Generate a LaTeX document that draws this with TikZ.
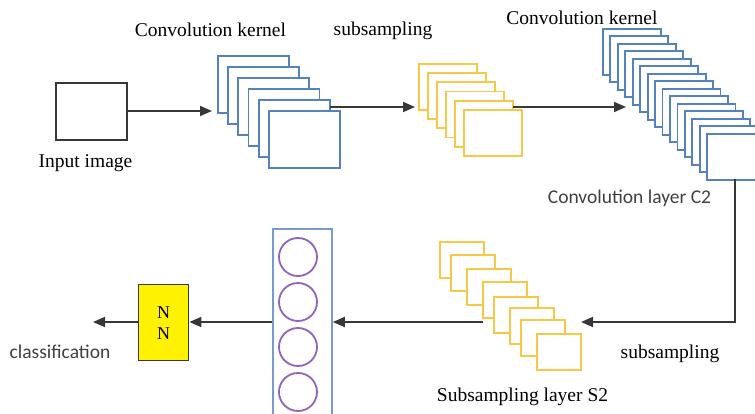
\documentclass[tikz,border=0pt]{standalone}
\usepackage{fontspec}
\setmainfont{Liberation Serif}
\newfontfamily\labelsans{Carlito}
\usetikzlibrary{arrows.meta}

\definecolor{fmblue}{RGB}{84,130,190}
\definecolor{colblue}{RGB}{120,155,205}
\definecolor{fmgold}{RGB}{245,200,70}
\definecolor{cellpurple}{RGB}{145,100,190}
\definecolor{wire}{RGB}{55,55,55}
\definecolor{sanstext}{RGB}{64,64,64}

\tikzset{
  fmap/.style={draw, fill=white, line width=1.8pt, inner sep=0pt, anchor=north west},
  convmap/.style={fmap, draw=fmblue},
  poolmap/.style={fmap, draw=fmgold},
  flow/.style={draw=wire, line width=1.8pt, -{Triangle[length=12pt,width=10pt]}},
  serif label/.style={font=\fontsize{19.5}{22}\selectfont, anchor=base, inner sep=0pt},
  sans label/.style={font=\labelsans\fontsize{19.5}{22}\selectfont, text=sanstext, anchor=base, inner sep=0pt},
  cell/.style={circle, draw=cellpurple, line width=1.8pt, minimum size=38pt, inner sep=0pt}
}

\begin{document}
\begin{tikzpicture}[x=1pt, y=-1pt]
  \useasboundingbox (0,0) rectangle (755,414);
  \clip (0,0) rectangle (755,414);

  % input image
  \node[draw=wire, line width=1.8pt, fill=white, minimum width=71pt, minimum height=57pt,
        inner sep=0pt, anchor=north west] (input) at (55,82) {};
  \node[serif label] (inputlbl) at (85.5,168) {Input image};

  % first convolution stack
  \foreach \i in {1,...,6}
    \node[convmap, minimum width=71pt, minimum height=57pt] (ca\i)
      at ({217+10.2*(\i-1)}, {55+11*(\i-1)}) {};
  \node[serif label] (kern1) at (210.5,37) {Convolution kernel};

  % first subsampling stack
  \foreach \i in {1,...,6}
    \node[poolmap, minimum width=58pt, minimum height=46pt] (sa\i)
      at ({418+9*(\i-1)}, {63+9.2*(\i-1)}) {};
  \node[serif label] (sub1) at (383,36) {subsampling};

  % second convolution stack (C2)
  \foreach \i in {1,...,15}
    \node[convmap, minimum width=58pt, minimum height=46pt] (cb\i)
      at ({602+7.45*(\i-1)}, {28+7.5*(\i-1)}) {};
  \node[serif label] (kern2) at (582,25) {Convolution kernel};
  \node[sans label] (c2lbl) at (629.5,204) {Convolution layer C2};

  % second subsampling stack (S2)
  \foreach \x/\y [count=\i] in {439/241, 450/254, 466/268, 482/281, 493/296, 509/307, 520/319, 536/333}
    \node[poolmap, minimum width=44pt, minimum height=36pt] (sb\i) at (\x,\y) {};
  \node[serif label] (s2lbl) at (522.5,401) {Subsampling layer S2};
  \node[serif label] (sub2) at (670,358) {subsampling};

  % fully connected column
  \node[draw=colblue, line width=1.8pt, fill=white, minimum width=59pt, minimum height=200pt,
        inner sep=0pt, anchor=north west] (fc) at (272,228) {};
  \foreach \y [count=\i] in {257,302,347,392}
    \node[cell] (n\i) at (298,\y) {};

  % classifier block
  \node[draw=wire, line width=1.4pt, fill=yellow, minimum width=50pt, minimum height=76pt,
        inner sep=0pt, anchor=north west,
        font=\fontsize{18}{21}\selectfont, align=center] (nn) at (138,284) {N\\N};
  \node[sans label] (cls) at (60,358) {classification};

  % connectors
  \coordinate (a1) at (212,111);
  \coordinate (b0) at (330,107);
  \coordinate (b1) at (415,107);
  \coordinate (c0) at (513,107);
  \coordinate (c1) at (626,107);
  \coordinate (d0) at (735,179);
  \coordinate (d1) at (735,322);
  \coordinate (d2) at (581,322);
  \coordinate (e0) at (483,322);
  \coordinate (f0) at (93,322);

  \draw[flow] (input.east |- a1) -- (a1);
  \draw[flow] (b0) -- (b1);
  \draw[flow] (c0) -- (c1);
  \draw[flow] (d0) -- (d1) -- (d2);
  \draw[flow] (e0) -- (fc.east |- e0);
  \draw[flow] (fc.west |- e0) -- (nn.east |- e0);
  \draw[flow] (nn.west |- e0) -- (f0);
\end{tikzpicture}
\end{document}
